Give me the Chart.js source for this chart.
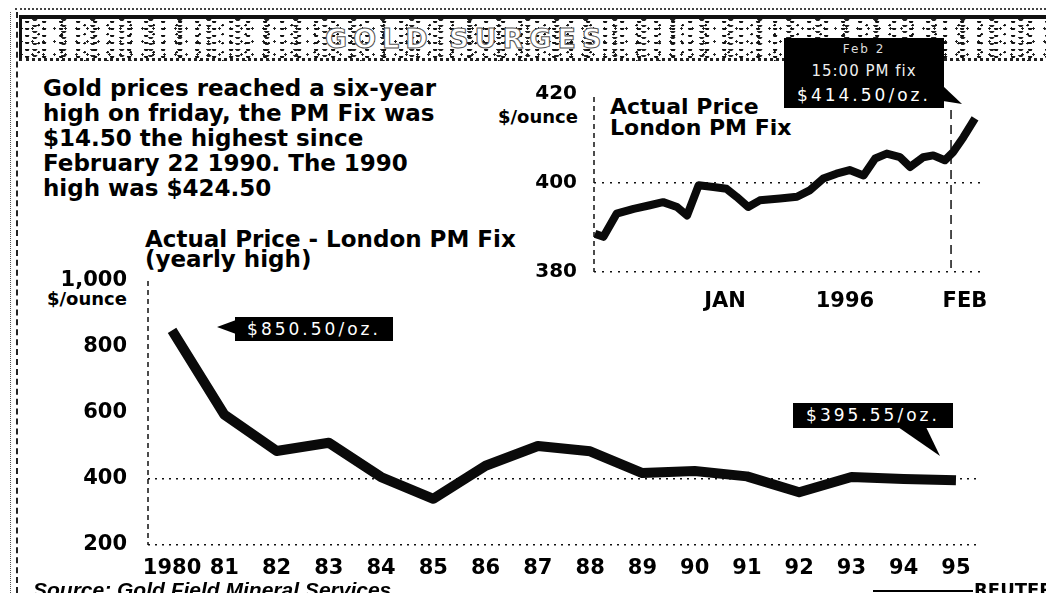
<!DOCTYPE html>
<html><head><meta charset="utf-8">
<script src="https://cdn.jsdelivr.net/npm/chart.js@4.4.1/dist/chart.umd.min.js"></script>
<style>
html,body{margin:0;padding:0;background:#fff;}
body{width:1046px;height:593px;position:relative;overflow:hidden;font-family:"DejaVu Sans",sans-serif;color:#000;}
.layer{position:absolute;left:0;top:0;width:1046px;height:593px;}
.t{position:absolute;white-space:nowrap;font-weight:bold;}
.band{position:absolute;left:19px;top:15px;width:1027px;height:39px;
 background:
  radial-gradient(ellipse 2.6px 1.1px at 30% 40%, #111 80%, transparent 100%) 0 0/17px 7px,
  radial-gradient(ellipse 1.6px 1.2px at 60% 60%, #111 80%, transparent 100%) 3px 1px/23px 9px,
  radial-gradient(ellipse 1.3px 1.3px at 50% 50%, #222 80%, transparent 100%) 5px 3px/11px 13px,
  radial-gradient(ellipse 3px 1px at 20% 80%, #222 80%, transparent 100%) 7px 2px/29px 6px,
  #fff;
 border-top:4px solid #111;border-left:3px solid #111;border-bottom:3px dotted #222;}
.bandtitle{position:absolute;left:325px;top:23px;font:bold 27px "DejaVu Sans";letter-spacing:6px;color:#fff;-webkit-text-stroke:1px #555;}
.box{position:absolute;background:#000;color:#fff;text-align:center;font-family:"DejaVu Sans";white-space:nowrap;}
</style></head><body>

<div class="band"></div>
<div class="bandtitle">GOLD SURGES</div>
<div style="position:absolute;left:15px;top:8px;width:1031px;border-top:2px dotted #444;"></div>
<div style="position:absolute;left:16px;top:12px;height:581px;border-left:2px dashed #222;"></div>
<div style="position:absolute;left:10px;top:12px;height:581px;border-left:1px dotted #555;"></div>

<div class="t" style="left:43px;top:76px;font-size:23px;line-height:25px;">Gold prices reached a six-year<br>high on friday, the PM Fix was<br>$14.50 the highest since<br>February 22 1990. The 1990<br>high was $424.50</div>

<div class="t" style="left:145px;top:229px;font-size:23px;line-height:20px;">Actual Price - London PM Fix<br>(yearly high)</div>
<div class="t" style="right:919px;top:289px;font-size:18px;line-height:20px;text-align:right;">$/ounce</div>

<div class="t" style="left:610px;top:96px;font-size:22px;line-height:21px;">Actual Price<br>London PM Fix</div>
<div class="t" style="right:468px;top:107px;font-size:18px;line-height:20px;text-align:right;">$/ounce</div>

<div class="layer"><canvas id="main" width="1046" height="593"></canvas></div>
<div class="layer"><canvas id="inset" width="1046" height="593"></canvas></div>

<svg class="layer" width="1046" height="593" style="position:absolute;left:0;top:0;">
 <polygon points="236,320 217,327 236,334" fill="#000"/>
 <polygon points="898,427 926,427 940,456" fill="#000"/>
 <polygon points="943,86 943,101 962,104" fill="#000"/>
</svg>

<div class="box" style="left:235px;top:317px;width:158px;height:24px;line-height:24px;font-size:17px;letter-spacing:3px;">$850.50/oz.</div>
<div class="box" style="left:793px;top:403px;width:160px;height:25px;line-height:25px;font-size:17px;letter-spacing:3px;">$395.55/oz.</div>
<div class="box" style="left:784px;top:38px;width:160px;height:70px;">
 <div style="position:absolute;left:0;width:160px;top:4px;font-size:12px;line-height:14px;color:#ddd;letter-spacing:2px;">Feb 2</div>
 <div style="position:absolute;left:0;width:160px;top:24px;font-size:15px;line-height:18px;color:#eee;letter-spacing:1px;">15:00 PM fix</div>
 <div style="position:absolute;left:0;width:160px;top:46px;font-size:17px;line-height:22px;letter-spacing:3px;">$414.50/oz.</div>
</div>

<div class="t" style="left:33px;top:578px;font:italic bold 21px 'Liberation Sans';line-height:24px;">Source: Gold Field Mineral Services</div>
<div style="position:absolute;left:873px;top:590px;width:100px;border-top:2px solid #000;"></div>
<div class="t" style="left:974px;top:579px;font-size:18px;line-height:22px;">REUTERS</div>

<script>
// ---- Main chart data: yearly high, London PM fix ($/ounce)
const years = [1980,1981,1982,1983,1984,1985,1986,1987,1988,1989,1990,1991,1992,1993,1994,1995];
const yearLabels = ['1980','81','82','83','84','85','86','87','88','89','90','91','92','93','94','95'];
const yearlyHigh = [850.5,595,485,510,406,340,440,500,484,418,424,408,360,406,400,396];
const mainYTicks = [200,400,600,800,1000];
const mainYLabels = ['200','400','600','800','1,000'];
const mainGridValues = [200,400];

// ---- Inset data: daily PM fix, days relative to Jan 1 1996
const insetDays = [-16.8,-15.7,-14.0,-11.8,-9.7,-8.0,-6.2,-4.9,-3.4,-1.5,0.2,1.5,3.0,4.5,7.1,9.3,11.0,12.7,14.4,16.1,17.9,19.4,20.9,22.6,23.9,25.6,26.9,28.4,29.5,30.8,32.3];
const insetPrice = [388.6,387.9,393.1,394.2,395.0,395.7,394.6,392.7,399.5,399.1,398.7,396.9,394.6,396.1,396.5,396.9,398.4,401.0,402.1,402.9,401.7,405.5,406.6,405.8,403.6,405.8,406.2,405.1,407.0,410.3,414.5];
const insetXTicks = [0,15.5,31];
const insetXLabels = ['JAN','1996','FEB'];
const insetYTicks = [380,400,420];
const insetYLabels = ['380','400','420'];
const insetGridValues = [380,400];
const insetMarkerDay = 29.2;

Chart.defaults.font.family = 'DejaVu Sans';
Chart.defaults.color = '#000';
Chart.defaults.animation = false;

const frame = {
  id: 'frame',
  beforeDatasetsDraw(chart, args, opts) {
    const {ctx, chartArea} = chart;
    ctx.save();
    ctx.strokeStyle = '#111';
    ctx.lineWidth = 1.5;
    ctx.setLineDash([5, 4]);
    ctx.beginPath();
    ctx.moveTo(chartArea.left, chartArea.top + (opts.topGap || 0));
    ctx.lineTo(chartArea.left, chartArea.bottom);
    ctx.stroke();
    if (opts.markerDay !== undefined) {
      const x = chart.scales.x.getPixelForValue(opts.markerDay);
      ctx.setLineDash([9, 6]);
      ctx.beginPath();
      ctx.moveTo(x, chartArea.top + 16);
      ctx.lineTo(x, chartArea.bottom - 4);
      ctx.stroke();
    }
    ctx.restore();
  }
};

new Chart(document.getElementById('main'), {
  type: 'line',
  data: { datasets: [{
    data: years.map((y, i) => ({x: y, y: yearlyHigh[i]})),
    borderColor: '#0a0a0a', borderWidth: 10, pointRadius: 0, tension: 0,
    borderJoinStyle: 'round', borderCapStyle: 'butt'
  }]},
  options: {
    responsive: false, devicePixelRatio: 1,
    layout: { padding: {top: 281, right: 66, left: 0, bottom: 0} },
    plugins: { legend: {display: false}, tooltip: {enabled: false}, frame: {} },
    scales: {
      x: {
        type: 'linear', min: 1979.54, max: 1995.46,
        afterBuildTicks: s => { s.ticks = years.map(v => ({value: v})); },
        afterFit: s => { s.height = 48; },
        ticks: { autoSkip: false, maxRotation: 0, padding: 3,
          font: {size: 21, weight: 'bold'},
          callback: v => yearLabels[years.indexOf(v)] },
        grid: { display: false }, border: { display: false }
      },
      y: {
        min: 200, max: 1000,
        afterBuildTicks: s => { s.ticks = mainYTicks.map(v => ({value: v})); },
        afterFit: s => { s.width = 148; },
        ticks: { padding: 21, font: {size: 21, weight: 'bold'},
          callback: v => mainYLabels[mainYTicks.indexOf(v)] },
        grid: { drawTicks: false, lineWidth: 1.5,
          color: c => (c.tick && mainGridValues.includes(c.tick.value)) ? '#111' : 'rgba(0,0,0,0)' },
        border: { display: false, dash: [2, 5] }
      }
    }
  },
  plugins: [frame]
});

new Chart(document.getElementById('inset'), {
  type: 'line',
  data: { datasets: [{
    data: insetDays.map((d, i) => ({x: d, y: insetPrice[i]})),
    borderColor: '#0a0a0a', borderWidth: 8, pointRadius: 0, tension: 0,
    borderJoinStyle: 'round', borderCapStyle: 'butt'
  }]},
  options: {
    responsive: false, devicePixelRatio: 1,
    layout: { padding: {top: 94, right: 64, left: 0, bottom: 0} },
    plugins: { legend: {display: false}, tooltip: {enabled: false}, frame: {markerDay: insetMarkerDay, topGap: 3} },
    scales: {
      x: {
        type: 'linear', min: -16.92, max: 33.2,
        afterBuildTicks: s => { s.ticks = insetXTicks.map(v => ({value: v})); },
        afterFit: s => { s.height = 321; },
        ticks: { autoSkip: false, maxRotation: 0, padding: 9,
          font: {size: 21, weight: 'bold'},
          callback: v => insetXLabels[insetXTicks.indexOf(v)] },
        grid: { display: false }, border: { display: false }
      },
      y: {
        min: 380, max: 420,
        afterBuildTicks: s => { s.ticks = insetYTicks.map(v => ({value: v})); },
        afterFit: s => { s.width = 594; },
        ticks: { padding: 17, font: {size: 20, weight: 'bold'},
          callback: v => insetYLabels[insetYTicks.indexOf(v)] },
        grid: { drawTicks: false, lineWidth: 1.5,
          color: c => (c.tick && insetGridValues.includes(c.tick.value)) ? '#111' : 'rgba(0,0,0,0)' },
        border: { display: false, dash: [2, 6] }
      }
    }
  },
  plugins: [frame]
});
</script>
</body></html>
